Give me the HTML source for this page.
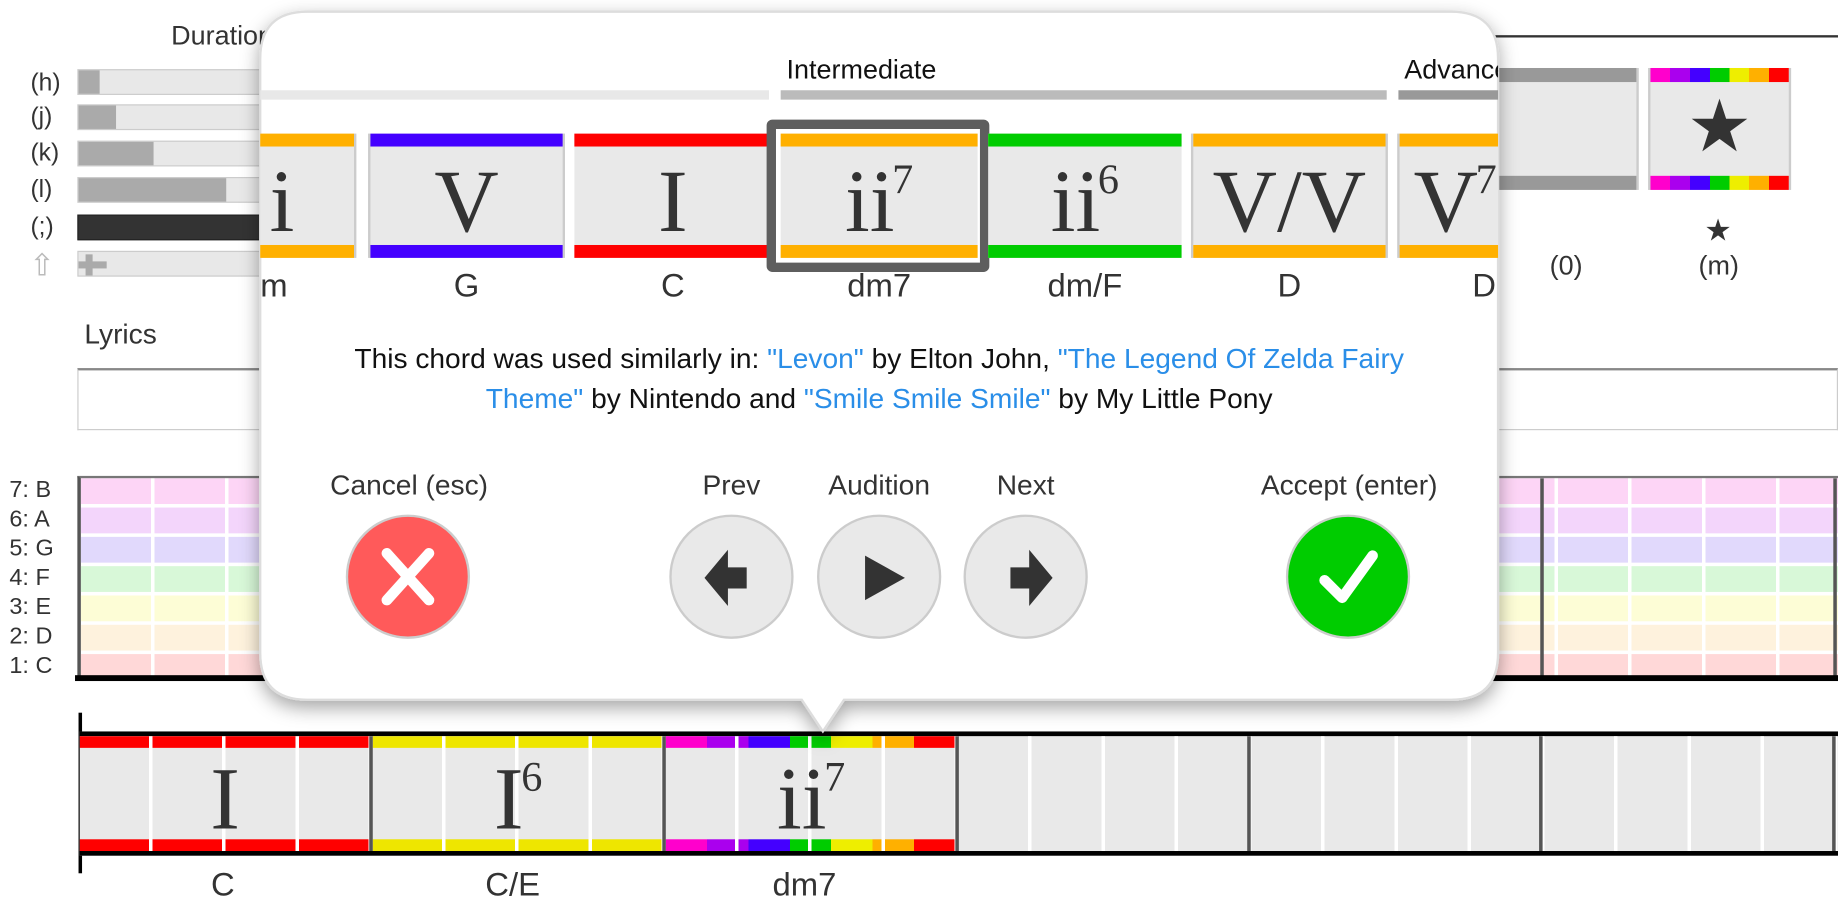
<!DOCTYPE html>
<html><head><meta charset="utf-8"><style>
html,body{margin:0;padding:0;width:1838px;height:918px;overflow:hidden;background:#fff}
#w{position:absolute;left:0;top:0;width:1568px;height:783px;transform:scale(1.17219);transform-origin:0 0;font-family:"Liberation Sans",sans-serif;color:#333}
.a{position:absolute}
.t{position:absolute;white-space:nowrap}
.bar{position:absolute;left:66px;width:220px;height:22px;background:#e8e8e8;border:1px solid #ccc;box-sizing:border-box}
.bar i{position:absolute;left:0;top:0;bottom:0;background:#aaa}
.rb{background:linear-gradient(90deg,#ff00cc 0 14.3%,#aa00ee 14.3% 28.6%,#4400ff 28.6% 42.9%,#00cc00 42.9% 57.1%,#eeee00 57.1% 71.4%,#ffb000 71.4% 85.7%,#ff0000 85.7%)}
.card{position:absolute;top:114px;height:106px;background:#e9e9e9;border-left:2px solid #ccc;border-right:2px solid #ccc;box-sizing:border-box}
.card .tb,.card .bb{position:absolute;left:0;right:0;height:11px}
.card .tb{top:0}.card .bb{bottom:0}
.rn{position:absolute;left:0;right:0;top:20px;text-align:center;font-family:"Liberation Serif",serif;font-size:76px;line-height:76px;color:#333;white-space:nowrap}
.rn sup{font-size:36px;vertical-align:0;position:relative;top:-32px;margin-left:-2px}
.lbl{position:absolute;top:228px;font-size:28px;text-align:center;color:#333}
.btn{position:absolute;top:439px;width:106px;height:106px;border-radius:50%;box-sizing:border-box;border:2px solid #ccc;background:#e9e9e9}
.bl{position:absolute;top:401px;font-size:24px;text-align:center;width:240px;color:#333}
.row{position:absolute;left:68px;right:0;height:22px}
.rl{position:absolute;left:8px;font-size:20px;color:#333}
a{color:#2a8ee8;text-decoration:none}
</style></head><body><div id="w">

<!-- top left -->
<div class="t" style="left:146px;top:17px;font-size:23px">Duration</div>
<div class="t" style="left:26px;top:59px;font-size:21px">(h)</div>
<div class="t" style="left:26px;top:88px;font-size:21px">(j)</div>
<div class="t" style="left:26px;top:119px;font-size:21px">(k)</div>
<div class="t" style="left:26px;top:150px;font-size:21px">(l)</div>
<div class="t" style="left:26px;top:182px;font-size:21px">(;)</div>
<div class="t" style="left:25px;top:211px;font-size:26px;color:#bbb">⇧</div>
<div class="bar" style="top:59px"><i style="width:18px"></i></div>
<div class="bar" style="top:89px"><i style="width:32px"></i></div>
<div class="bar" style="top:120px"><i style="width:64px"></i></div>
<div class="bar" style="top:151px"><i style="width:126px"></i></div>
<div class="bar" style="top:183px;background:#333;border-color:#222"></div>
<div class="bar" style="top:214px"><i style="left:6px;top:2px;width:6px;height:18px;background:#aaa"></i><i style="left:0;top:8px;width:24px;height:6px;bottom:auto;background:#aaa"></i></div>

<!-- top right -->
<div class="a" style="left:1270px;top:30px;width:298px;height:2px;background:#333"></div>
<div class="a" style="left:1278px;top:58px;width:120px;height:104px;background:#e9e9e9;border-right:2px solid #ccc;box-sizing:border-box">
 <div class="a" style="left:0;right:0;top:0;height:12px;background:#999"></div>
 <div class="a" style="left:0;right:0;bottom:0;height:12px;background:#999"></div></div>
<div class="a" style="left:1406px;top:58px;width:122px;height:104px;background:#e9e9e9;border-left:2px solid #ccc;border-right:2px solid #ccc;box-sizing:border-box">
 <div class="a rb" style="left:0;right:0;top:0;height:12px"></div>
 <div class="a rb" style="left:0;right:0;bottom:0;height:12px"></div>
 <div class="t" style="left:0;right:0;top:20px;text-align:center;font-size:62px;line-height:62px;color:#333">★</div></div>
<div class="t" style="left:1454px;top:181px;font-size:26px">★</div>
<div class="t" style="left:1322px;top:213px;font-size:23px">(0)</div>
<div class="t" style="left:1449px;top:213px;font-size:23px">(m)</div>

<!-- lyrics -->
<div class="t" style="left:72px;top:272px;font-size:24px">Lyrics</div>
<div class="a" style="left:66px;top:314px;width:1502px;height:53px;border:1px solid #ccc;border-top:2px solid #888;box-sizing:border-box"></div>

<!-- grid -->
<div class="a" style="left:66px;top:406px;width:1502px;height:174px;background:#fff;border-left:3px solid #555;border-top:2px solid #777;box-sizing:border-box;overflow:hidden">
 <div class="row" style="left:0;top:0;background:#fdd5f6"></div>
 <div class="row" style="left:0;top:25px;background:#f3d5fb"></div>
 <div class="row" style="left:0;top:50px;background:#e1d9fc"></div>
 <div class="row" style="left:0;top:75px;background:#d8f8d8"></div>
 <div class="row" style="left:0;top:100px;background:#fdfdd6"></div>
 <div class="row" style="left:0;top:125px;background:#fef2dd"></div>
 <div class="row" style="left:0;top:150px;background:#ffd8d8"></div>
 <div class="a" style="left:0;top:0;width:1502px;height:174px;background:repeating-linear-gradient(90deg,transparent 0 60px,#fff 60px 63px)"></div>
 <div class="a" style="left:1245px;top:0;width:3px;height:174px;background:#555"></div>
 <div class="a" style="left:1495px;top:0;width:3px;height:174px;background:#555"></div>
</div>
<div class="a" style="left:64px;top:576px;width:1504px;height:5px;background:#000"></div>
<div class="rl" style="top:407px">7: B</div><div class="rl" style="top:432px">6: A</div><div class="rl" style="top:457px">5: G</div><div class="rl" style="top:482px">4: F</div><div class="rl" style="top:507px">3: E</div><div class="rl" style="top:532px">2: D</div><div class="rl" style="top:557px">1: C</div>

<!-- bottom track -->
<div class="a" style="left:67px;top:608px;width:3px;height:137px;background:#000"></div>
<div class="a" style="left:68px;top:624px;width:1500px;height:106px;background:#e9e9e9;border-top:4px solid #000;border-bottom:4px solid #000;box-sizing:border-box;overflow:hidden">
 <div class="a" style="left:0;top:0;width:248px;height:10px;background:#f00"></div>
 <div class="a" style="left:0;bottom:0;width:248px;height:10px;background:#f00"></div>
 <div class="a" style="left:250px;top:0;width:248px;height:10px;background:#eee600"></div>
 <div class="a" style="left:250px;bottom:0;width:248px;height:10px;background:#eee600"></div>
 <div class="a rb" style="left:500px;top:0;width:247px;height:10px"></div>
 <div class="a rb" style="left:500px;bottom:0;width:247px;height:10px"></div>
 <div class="a" style="left:0;top:0;width:1500px;height:106px;background:repeating-linear-gradient(90deg,transparent 0 59px,#fff 59px 62px,transparent 62px 62.5px)"></div>
 <div class="a" style="left:247px;top:0;width:3px;height:106px;background:#555"></div>
 <div class="a" style="left:497px;top:0;width:3px;height:106px;background:#555"></div>
 <div class="a" style="left:747px;top:0;width:3px;height:106px;background:#555"></div>
 <div class="a" style="left:996px;top:0;width:3px;height:106px;background:#555"></div>
 <div class="a" style="left:1245px;top:0;width:3px;height:106px;background:#555"></div>
 <div class="a" style="left:1495px;top:0;width:3px;height:106px;background:#555"></div>
 <div class="rn" style="left:0;width:248px;right:auto;top:16px">I</div>
 <div class="rn" style="left:250px;width:248px;right:auto;top:16px">I<sup>6</sup></div>
 <div class="rn" style="left:500px;width:248px;right:auto;top:16px">ii<sup>7</sup></div>
</div>
<div class="t" style="left:180px;top:739px;font-size:28px">C</div>
<div class="t" style="left:414px;top:739px;font-size:28px">C/E</div>
<div class="t" style="left:659px;top:739px;font-size:28px">dm7</div>

<!-- popup -->
<svg class="a" style="left:0;top:0" width="1568" height="783">
 <defs><filter id="sh" x="-10%" y="-10%" width="120%" height="130%"><feDropShadow dx="0" dy="6" stdDeviation="8" flood-color="#000" flood-opacity="0.35"/></filter></defs>
 <path d="M262 10 H1238 Q1278 10 1278 50 V557 Q1278 597 1238 597 H720 L702 624 L684 597 H262 Q222 597 222 557 V50 Q222 10 262 10 Z" fill="#fff" stroke="#ddd" stroke-width="2" filter="url(#sh)"/>
</svg>
<div class="a" style="left:222px;top:10px;width:1056px;height:587px;overflow:hidden;border-radius:40px">
 <div style="position:absolute;left:-222px;top:-10px;width:1568px;height:783px">
  <div class="t" style="left:671px;top:46px;font-size:23px;color:#111">Intermediate</div>
  <div class="t" style="left:1198px;top:46px;font-size:23px;color:#111">Advanced</div>
  <div class="a" style="left:222px;top:77px;width:434px;height:8px;background:#e8e8e8"></div>
  <div class="a" style="left:666px;top:77px;width:517px;height:8px;background:#bbb"></div>
  <div class="a" style="left:1193px;top:77px;width:100px;height:8px;background:#999"></div>

  <div class="card" style="left:200px;width:104px"><div class="tb" style="background:#ffb000"></div><div class="bb" style="background:#ffb000"></div><div class="rn" style="text-align:left;left:28px">i</div></div>
  <div class="card" style="left:314px;width:168px"><div class="tb" style="background:#4400ff"></div><div class="bb" style="background:#4400ff"></div><div class="rn">V</div></div>
  <div class="card" style="left:490px;width:168px;border:none"><div class="tb" style="background:#f00"></div><div class="bb" style="background:#f00"></div><div class="rn">I</div></div>
  <div class="card" style="left:666px;width:168px;border:none"><div class="tb" style="background:#ffb000"></div><div class="bb" style="background:#ffb000"></div><div class="rn">ii<sup>7</sup></div></div>
  <div class="a" style="left:654px;top:102px;width:190px;height:130px;border:8px solid #5e5e5e;border-radius:5px;box-sizing:border-box"></div>
  <div class="card" style="left:843px;width:165px;border:none"><div class="tb" style="background:#00cc00"></div><div class="bb" style="background:#00cc00"></div><div class="rn">ii<sup>6</sup></div></div>
  <div class="card" style="left:1016px;width:168px"><div class="tb" style="background:#ffb000"></div><div class="bb" style="background:#ffb000"></div><div class="rn">V/V</div></div>
  <div class="card" style="left:1192px;width:168px"><div class="tb" style="background:#ffb000"></div><div class="bb" style="background:#ffb000"></div><div class="rn" style="text-align:left;left:12px">V<sup>7</sup></div></div>

  <div class="lbl" style="left:222px">m</div>
  <div class="lbl" style="left:314px;width:168px">G</div>
  <div class="lbl" style="left:490px;width:168px">C</div>
  <div class="lbl" style="left:666px;width:168px">dm7</div>
  <div class="lbl" style="left:843px;width:165px">dm/F</div>
  <div class="lbl" style="left:1016px;width:168px">D</div>
  <div class="lbl" style="left:1256px">D</div>

  <div class="a" style="left:200px;top:290px;width:1100px;text-align:center;font-size:24px;line-height:34px;color:#111">This chord was used similarly in: <a>"Levon"</a> by Elton John, <a>"The Legend Of Zelda Fairy<br>Theme"</a> by Nintendo and <a>"Smile Smile Smile"</a> by My Little Pony</div>

  <div class="bl" style="left:229px">Cancel (esc)</div>
  <div class="bl" style="left:504px">Prev</div>
  <div class="bl" style="left:630px">Audition</div>
  <div class="bl" style="left:755px">Next</div>
  <div class="bl" style="left:1031px">Accept (enter)</div>

  <div class="btn" style="left:295px;background:#ff5a5a">
   <svg width="102" height="102" style="position:absolute;left:0;top:0"><path d="M33 31 L69 71 M69 31 L33 71" stroke="#fff" stroke-width="9" stroke-linecap="round"/></svg></div>
  <div class="btn" style="left:571px">
   <svg width="102" height="102" style="position:absolute;left:0;top:0"><path d="M28 52 L48 28 V43 H64 V61 H48 V76 Z" fill="#333"/></svg></div>
  <div class="btn" style="left:697px">
   <svg width="102" height="102" style="position:absolute;left:0;top:0"><path d="M39 33 L73 52 L39 71 Z" fill="#333"/></svg></div>
  <div class="btn" style="left:822px">
   <svg width="102" height="102" style="position:absolute;left:0;top:0"><path d="M74 52 L54 28 V43 H38 V61 H54 V76 Z" fill="#333"/></svg></div>
  <div class="btn" style="left:1097px;background:#00cc00">
   <svg width="102" height="102" style="position:absolute;left:0;top:0"><path d="M31 54 L46 69 L72 33" stroke="#fff" stroke-width="9" fill="none" stroke-linecap="round" stroke-linejoin="round"/></svg></div>
 </div>
</div>

</div></body></html>
